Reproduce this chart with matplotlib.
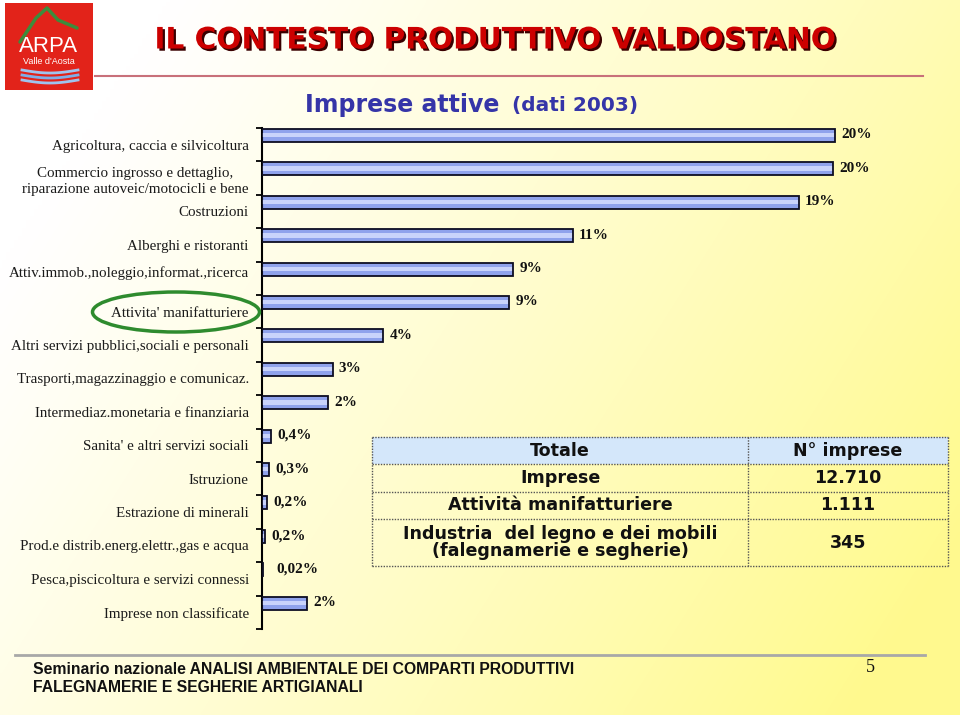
import numpy as np
import matplotlib
matplotlib.use("Agg")
import matplotlib.pyplot as plt
from matplotlib.patches import Rectangle, Ellipse
import matplotlib.patheffects as pe

# ---------------- data ----------------
categories = [
    "Agricoltura, caccia e silvicoltura",
    "Commercio ingrosso e dettaglio,\nriparazione autoveic/motocicli e bene",
    "Costruzioni",
    "Alberghi e ristoranti",
    "Attiv.immob.,noleggio,informat.,ricerca\n ",
    "Attivita' manifatturiere",
    "Altri servizi pubblici,sociali e personali",
    "Trasporti,magazzinaggio e comunicaz.",
    "Intermediaz.monetaria e finanziaria",
    "Sanita' e altri servizi sociali",
    "Istruzione",
    "Estrazione di minerali",
    "Prod.e distrib.energ.elettr.,gas e acqua",
    "Pesca,piscicoltura e servizi connessi",
    "Imprese non classificate",
]
shares = [20.3, 20.2, 19.0, 11.0, 8.9, 8.74, 4.3, 2.5, 2.35, 0.33, 0.25, 0.18, 0.11, 0.02, 1.6]
share_labels = ["20%", "20%", "19%", "11%", "9%", "9%", "4%", "3%", "2%",
                "0,4%", "0,3%", "0,2%", "0,2%", "0,02%", "2%"]

table_header = ["Totale", "N° imprese"]
table_rows = ["Imprese", "Attività manifatturiere",
              "Industria  del legno e dei mobili\n(falegnamerie e segherie)"]
table_values = ["12.710", "1.111", "345"]

title = "IL CONTESTO PRODUTTIVO VALDOSTANO"
subtitle_main = "Imprese attive"
subtitle_sub = "(dati 2003)"
footer_lines = ["Seminario nazionale ANALISI AMBIENTALE DEI COMPARTI PRODUTTIVI",
                "FALEGNAMERIE E SEGHERIE ARTIGIANALI"]
page_number = "5"

# ---------------- figure ----------------
W, H = 960, 715
fig = plt.figure(figsize=(W / 100, H / 100), dpi=100)

# background gradient
bg = fig.add_axes([0, 0, 1, 1], zorder=0)
gx, gy = np.meshgrid(np.linspace(0, 1, 240), np.linspace(0, 1, 180))
t = np.clip(0.85 * gx + 0.4 * gy - 0.15, 0, 1) ** 1.1
white = np.array([1.0, 1.0, 1.0])
yellow = np.array([1.0, 0.98, 0.56])
img = white[None, None, :] * (1 - t[..., None]) + yellow[None, None, :] * t[..., None]
bg.imshow(img, extent=(0, 1, 0, 1), origin="upper", aspect="auto", interpolation="bilinear")
bg.set_xlim(0, 1)
bg.set_ylim(0, 1)
bg.axis("off")

# bar chart axes
ax_left, ax_right, ax_top, ax_bot = 262, 940, 128, 629
ax = fig.add_axes([ax_left / W, (H - ax_bot) / H, (ax_right - ax_left) / W, (ax_bot - ax_top) / H],
                  zorder=2)
ax.patch.set_alpha(0)
ypos = np.arange(len(categories))
bar_pos = ypos - 0.275
bh = 0.39
ax.barh(bar_pos, shares, height=bh, color="#8FA2EC", lw=0, zorder=2)
ax.barh(bar_pos - 0.01, shares, height=bh * 0.33, color="#C9D3FB", lw=0, zorder=3)
ax.barh(bar_pos, shares, height=bh, facecolor="none", edgecolor="#0d0d22", lw=1.3, zorder=4)

for i, (v, lab) in enumerate(zip(shares, share_labels)):
    dx = 4.5 if v > 0.05 else 10
    ax.annotate(lab, xy=(v, bar_pos[i]), xytext=(dx, 0.5), textcoords="offset points",
                ha="left", va="center", fontsize=11, fontweight="bold",
                family="Liberation Serif", color="#111111", zorder=5)

ax.set_xlim(0, 24)
ax.set_ylim(len(categories) - 0.5, -0.5)
for s in ["top", "right", "bottom"]:
    ax.spines[s].set_visible(False)
ax.spines["left"].set_linewidth(1.5)
ax.set_xticks([])
ax.set_yticks(ypos)
ax.set_yticklabels(categories, fontsize=10.8, family="Liberation Serif", color="#1a1a1a",
                   linespacing=1.3)
for tl in ax.get_yticklabels():
    tl.set_multialignment("center")
ax.tick_params(axis="y", which="major", length=0, pad=9.5)
ax.set_yticks(np.arange(-0.5, len(categories), 1), minor=True)
ax.tick_params(axis="y", which="minor", length=4, width=1.3, direction="out")

# overlay for decorations
ov = fig.add_axes([0, 0, 1, 1], zorder=3)
ov.patch.set_alpha(0)
ov.set_xlim(0, W)
ov.set_ylim(H, 0)
ov.axis("off")

# logo
ov.add_patch(Rectangle((5, 3), 88, 87, facecolor="#E2231A", edgecolor="none"))
ov.plot([20, 36, 47, 58, 77], [42, 18, 8, 20, 28], color="#3C8C3C", lw=2.5, solid_capstyle="round")
ov.text(49, 47, "ARPA", ha="center", va="center", color="white", fontsize=16,
        family="Liberation Sans")
ov.text(49, 61, "Valle d'Aosta", ha="center", va="center", color="white", fontsize=6.5,
        family="Liberation Sans")
xs = np.linspace(22, 78, 40)
for k, c in enumerate(["#9FC3EE", "#7FAEE8", "#9FC3EE"]):
    ov.plot(xs, 70 + k * 5 + 3 * np.sin((xs - 22) / 56 * np.pi), color=c, lw=2)

# title and underline
ov.text(496, 40, title, ha="center", va="center", fontsize=21.3, fontweight="bold",
        family="DejaVu Sans", color="#CC0000",
        path_effects=[pe.withSimplePatchShadow(offset=(1.6, -1.6), shadow_rgbFace="#3a0000",
                                               alpha=1.0)])
ov.plot([95, 923], [76, 76], color="#C8707A", lw=1.5)

# subtitle
ov.text(305, 105, subtitle_main, ha="left", va="center", fontsize=17, fontweight="bold",
        family="DejaVu Sans", color="#3535A8")
ov.text(512, 106, subtitle_sub, ha="left", va="center", fontsize=14.5, fontweight="bold",
        family="DejaVu Sans", color="#3535A8")

# highlight ellipse
ov.add_patch(Ellipse((176, 312), 167, 40, fill=False, edgecolor="#2E8B2E", lw=2.5))

# table
tl_x, tr_x, split_x = 372, 948, 748
row_edges = [437, 464, 492, 519, 566]
ov.add_patch(Rectangle((tl_x, row_edges[0]), tr_x - tl_x, row_edges[1] - row_edges[0],
                       facecolor="#D4E7FA", edgecolor="none"))
dot = (0, (1, 1))
for yy in row_edges:
    ov.plot([tl_x, tr_x], [yy, yy], color="#555555", lw=1, linestyle=dot)
for xx in [tl_x, split_x, tr_x]:
    ov.plot([xx, xx], [row_edges[0], row_edges[-1]], color="#555555", lw=1, linestyle=dot)
lc = (tl_x + split_x) / 2
rc = (split_x + tr_x) / 2
tfont = dict(fontsize=12.6, fontweight="bold", family="DejaVu Sans", color="#111111",
             ha="center", va="center")
y0 = (row_edges[0] + row_edges[1]) / 2
ov.text(lc, y0, table_header[0], **tfont)
ov.text(rc, y0, table_header[1], **tfont)
for r, (lab, val) in enumerate(zip(table_rows, table_values)):
    yc = (row_edges[r + 1] + row_edges[r + 2]) / 2
    ov.text(lc, yc, lab, linespacing=0.95, **tfont)
    ov.text(rc, yc, val, **tfont)

# footer
ov.plot([15, 925], [655, 655], color="#A8A8A8", lw=2)
ov.text(33, 669, footer_lines[0], ha="left", va="center", fontsize=11.3, fontweight="bold",
        family="Liberation Sans", color="#111111")
ov.text(33, 687, footer_lines[1], ha="left", va="center", fontsize=11.3, fontweight="bold",
        family="Liberation Sans", color="#111111")
ov.text(870, 667, page_number, ha="center", va="center", fontsize=13,
        family="Liberation Serif", color="#111111")

fig.savefig("out.png", dpi=100)
